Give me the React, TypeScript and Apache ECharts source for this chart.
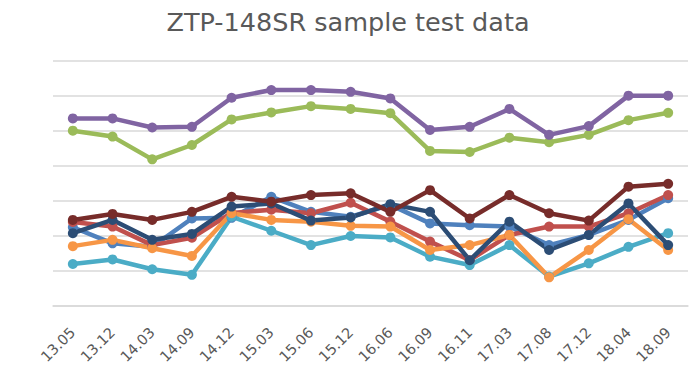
import React, { useEffect, useRef } from "react";
import * as echarts from "echarts";

const categories = ["13.05","13.12","14.03","14.09","14.12","15.03","15.06","15.12","16.06","16.09","16.11","17.03","17.08","17.12","18.04","18.09"];

const blueValues = [2.25, 1.79, 1.69, 2.5, 2.52, 3.12, 2.69, 2.55, 2.89, 2.36, 2.31, 2.27, 1.74, 2.03, 2.46, 3.08];
const redValues = [2.4, 2.27, 1.74, 1.95, 2.66, 2.75, 2.65, 2.95, 2.41, 1.84, 1.31, 2.03, 2.27, 2.27, 2.65, 3.17];
const greenValues = [5.01, 4.84, 4.19, 4.6, 5.33, 5.53, 5.71, 5.63, 5.51, 4.43, 4.4, 4.81, 4.68, 4.89, 5.31, 5.52];
const purpleValues = [5.36, 5.36, 5.1, 5.12, 5.95, 6.17, 6.17, 6.12, 5.93, 5.03, 5.12, 5.63, 4.89, 5.14, 6.01, 6.01];
const aquaValues = [1.2, 1.33, 1.05, 0.89, 2.55, 2.15, 1.74, 2.0, 1.96, 1.41, 1.17, 1.74, 0.84, 1.22, 1.69, 2.08];
const orangeValues = [1.71, 1.89, 1.65, 1.43, 2.65, 2.46, 2.41, 2.29, 2.27, 1.6, 1.74, 2.03, 0.82, 1.6, 2.48, 1.6];
const navyValues = [2.08, 2.46, 1.89, 2.06, 2.84, 2.93, 2.44, 2.53, 2.91, 2.69, 1.31, 2.41, 1.6, 2.03, 2.93, 1.74];
const maroonValues = [2.46, 2.63, 2.46, 2.69, 3.12, 2.98, 3.17, 3.22, 2.69, 3.31, 2.5, 3.17, 2.65, 2.44, 3.41, 3.49];

const seriesList = [
  { name: "S1", color: "#4F81BD", data: blueValues },
  { name: "S2", color: "#C0504D", data: redValues },
  { name: "S3", color: "#9BBB59", data: greenValues },
  { name: "S4", color: "#8064A2", data: purpleValues },
  { name: "S5", color: "#4BACC6", data: aquaValues },
  { name: "S6", color: "#F79646", data: orangeValues },
  { name: "S7", color: "#2C4D75", data: navyValues },
  { name: "S8", color: "#772C2A", data: maroonValues },
];

export default function App() {
  const ref = useRef<HTMLDivElement>(null);
  useEffect(() => {
    if (!ref.current) return;
    const chart = echarts.init(ref.current, null, { renderer: "svg" });
    chart.setOption({
      animation: false,
      backgroundColor: "#ffffff",
      title: {
        text: "ZTP-148SR sample test data",
        left: "center",
        top: 4,
        textStyle: {
          fontFamily: "DejaVu Sans, sans-serif",
          fontSize: 25.5,
          fontWeight: "normal",
          color: "#595959",
        },
      },
      grid: { left: 53, right: 8, top: 61, bottom: 62, containLabel: false },
      xAxis: {
        type: "category",
        data: categories,
        boundaryGap: true,
        axisLine: { lineStyle: { color: "#d9d9d9", width: 1.5 } },
        axisTick: { show: false },
        axisLabel: {
          interval: 0,
          rotate: 45,
          color: "#595959",
          fontSize: 14.5,
          fontFamily: "DejaVu Sans, sans-serif",
          margin: 24,
        },
      },
      yAxis: {
        type: "value",
        min: 0,
        max: 7,
        interval: 1,
        axisLabel: { show: false },
        axisLine: { show: false },
        axisTick: { show: false },
        splitLine: { lineStyle: { color: "#d9d9d9", width: 1.5 } },
      },
      series: seriesList.map((s) => ({
        name: s.name,
        type: "line",
        data: s.data,
        symbol: "circle",
        symbolSize: 10,
        lineStyle: { color: s.color, width: 4.5 },
        itemStyle: { color: s.color },
      })),
    });
    return () => chart.dispose();
  }, []);
  return <div ref={ref} style={{ width: 696, height: 368, position: "absolute", left: 0, top: 0 }} />;
}
